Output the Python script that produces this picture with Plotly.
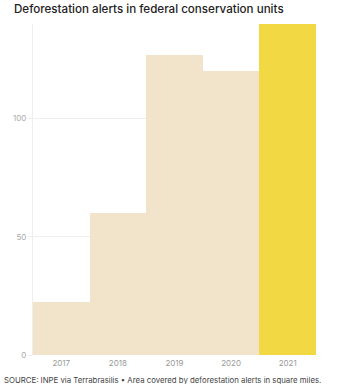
import plotly.graph_objects as go

years = ["2017", "2018", "2019", "2020", "2021"]
values = [22.5, 60.2, 127.0, 120.3, 139.8]
colors = ["#F2E4CA", "#F2E4CA", "#F2E4CA", "#F2E4CA", "#F2D843"]
y_ticks = [0, 50, 100]

fig = go.Figure(go.Bar(x=years, y=values, marker=dict(color=colors, line=dict(width=0)),
                       width=1, hoverinfo="skip"))

fig.update_layout(
    width=342, height=384,
    margin=dict(l=33, r=26, t=24, b=29),
    paper_bgcolor="white", plot_bgcolor="white",
    showlegend=False, bargap=0,
    font=dict(family="Inter, Lato, sans-serif", color="#999999", size=8),
    title=dict(text="Deforestation alerts in federal conservation units",
               x=14 / 342, xref="container", xanchor="left",
               y=1 - 9 / 384, yref="container", yanchor="middle",
               pad=dict(l=0, t=0, b=0),
               font=dict(family="Inter, sans-serif", size=11.6, color="#222222", weight=500)),
)

fig.update_xaxes(showgrid=False, showline=False, ticks="", zeroline=False,
                 tickfont=dict(size=8, color="#999999"), ticklabelstandoff=2)
fig.update_yaxes(range=[0, 140], tickvals=y_ticks, showgrid=True, gridcolor="#EEEEEE", gridwidth=1,
                 zeroline=False, showline=True, linecolor="#EEEEEE", linewidth=1,
                 ticks="outside", ticklen=4, tickcolor="#EEEEEE",
                 tickfont=dict(size=8, color="#AAAAAA"))

fig.add_annotation(text="SOURCE: INPE via Terrabrasilis \u2022 Area covered by deforestation alerts in square miles.",
                   xref="paper", yref="paper", x=-31/283, y=-25/331, xanchor="left", yanchor="middle",
                   showarrow=False, font=dict(family="Inter, sans-serif", size=7.8, color="#444444"))

fig.write_html("out.html")
